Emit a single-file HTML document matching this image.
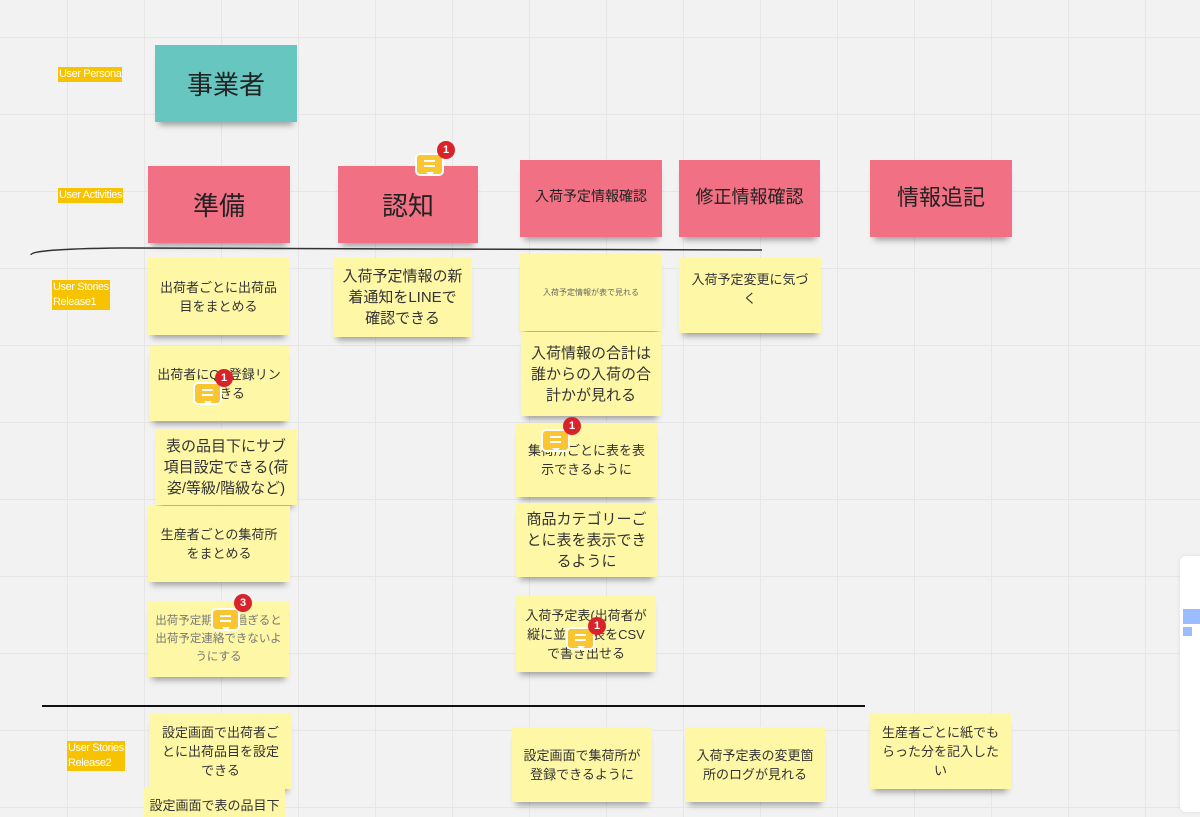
<!DOCTYPE html>
<html style="overflow:hidden;width:1200px;height:817px"><head><meta charset="utf-8"><style>
html,body{margin:0;width:1200px;height:817px;overflow:hidden}
body{background:#f2f2f2;
background-image:linear-gradient(to right,#e6e6e6 1px,transparent 1px),linear-gradient(to bottom,#e6e6e6 1px,transparent 1px);
background-size:77px 77px;background-position:67px 37px;
font-family:"Liberation Sans","Noto Sans CJK JP",sans-serif;position:relative}
.a{position:absolute}
.lbl{position:absolute;background:#f7c200;color:#fff;font-size:11px;line-height:15px;padding:0 1px;letter-spacing:-0.4px}
.s{position:absolute;display:flex;align-items:center;justify-content:center;text-align:center;color:#333;box-shadow:0 7px 6px -4px rgba(0,0,0,.35);box-sizing:border-box;padding:0 8px}
.y{background:#fef7a6;font-size:13px;line-height:19px}
.p{background:#f27083;font-size:26px;color:#222}
.c{position:absolute;width:29px;height:23px;background:#f9c531;border:2px solid #fff;border-radius:5px;box-sizing:border-box}
.c:before{content:"";position:absolute;left:7px;top:5px;width:11px;height:2px;background:#fff;box-shadow:0 5px 0 #fff}
.c:after{content:"";position:absolute;left:9px;bottom:-6px;border:4px solid transparent;border-top:4px solid #fff}
.b{position:absolute;width:18px;height:18px;border-radius:50%;background:#d8232a;color:#fff;font-size:11px;font-weight:bold;line-height:18px;text-align:center}
</style></head><body>
<div class="lbl" style="left:58px;top:67px">User Persona</div>
<div class="lbl" style="left:58px;top:188px">User Activities</div>
<div class="lbl" style="left:52px;top:280px">User Stories<br>Release1</div>
<div class="lbl" style="left:67px;top:741px">User Stories<br>Release2</div>

<div class="s" style="left:155px;top:45px;width:142px;height:77px;background:#67c7c0;font-size:26px;color:#222">事業者</div>

<div class="s p" style="left:148px;top:166px;width:142px;height:77px">準備</div>
<div class="s p" style="left:338px;top:166px;width:140px;height:77px">認知</div>
<div class="s p" style="left:520px;top:160px;width:142px;height:77px;font-size:14px;padding-bottom:6px">入荷予定情報確認</div>
<div class="s p" style="left:679px;top:160px;width:141px;height:77px;font-size:18px;padding-bottom:6px">修正情報確認</div>
<div class="s p" style="left:870px;top:160px;width:142px;height:77px;font-size:22px;padding-bottom:6px">情報追記</div>

<svg class="a" style="left:0;top:0" width="1200" height="817">
<path d="M31 255 Q30 249 120 248 L762 250" stroke="#333" stroke-width="1.5" fill="none"/>
<line x1="42" y1="706" x2="865" y2="706" stroke="#111" stroke-width="2"/>
</svg>

<div class="s y" style="left:148px;top:258px;width:141px;height:77px">出荷者ごとに出荷品目をまとめる</div>
<div class="s y" style="left:149px;top:346px;width:140px;height:75px">出荷者にQR登録リンクできる</div>
<div class="s y" style="left:155px;top:429px;width:142px;height:76px;font-size:15px;line-height:21px">表の品目下にサブ項目設定できる(荷姿/等級/階級など)</div>
<div class="s y" style="left:148px;top:506px;width:142px;height:76px">生産者ごとの集荷所をまとめる</div>
<div class="s y" style="left:148px;top:601px;width:141px;height:76px;font-size:11.5px;line-height:18px;color:#777;padding:0 5px">出荷予定期間を過ぎると出荷予定連絡できないようにする</div>

<div class="s y" style="left:333px;top:258px;width:139px;height:79px;font-size:15px;line-height:21px">入荷予定情報の新着通知をLINEで確認できる</div>

<div class="s y" style="left:520px;top:254px;width:142px;height:77px;font-size:8px;color:#666">入荷予定情報が表で見れる</div>
<div class="s y" style="left:521px;top:332px;width:140px;height:84px;font-size:15px;line-height:21px">入荷情報の合計は誰からの入荷の合計かが見れる</div>
<div class="s y" style="left:516px;top:423px;width:141px;height:74px">集荷所ごとに表を表示できるように</div>
<div class="s y" style="left:516px;top:503px;width:141px;height:74px;font-size:15px;line-height:21px">商品カテゴリーごとに表を表示できるように</div>
<div class="s y" style="left:516px;top:596px;width:140px;height:76px;padding:0 6px">入荷予定表(出荷者が縦に並んだ表をCSVで書き出せる</div>

<div class="s y" style="left:679px;top:258px;width:142px;height:75px;align-items:flex-start;padding-top:12px">入荷予定変更に気づく</div>

<div class="s y" style="left:149px;top:713px;width:143px;height:76px">設定画面で出荷者ごとに出荷品目を設定できる</div>
<div class="s y" style="left:144px;top:788px;width:141px;height:29px;align-items:flex-start;padding:8px 2px 0;white-space:nowrap;box-shadow:none">設定画面で表の品目下</div>
<div class="s y" style="left:512px;top:727px;width:140px;height:75px">設定画面で集荷所が登録できるように</div>
<div class="s y" style="left:685px;top:727px;width:140px;height:75px">入荷予定表の変更箇所のログが見れる</div>
<div class="s y" style="left:870px;top:713px;width:141px;height:76px">生産者ごとに紙でもらった分を記入したい</div>

<div class="c" style="left:415px;top:153px"></div><div class="b" style="left:437px;top:141px">1</div>
<div class="c" style="left:193px;top:382px"></div><div class="b" style="left:215px;top:369px">1</div>
<div class="c" style="left:541px;top:429px"></div><div class="b" style="left:563px;top:417px">1</div>
<div class="c" style="left:211px;top:608px"></div><div class="b" style="left:234px;top:594px">3</div>
<div class="c" style="left:566px;top:627px"></div><div class="b" style="left:588px;top:617px">1</div>

<div class="a" style="left:1180px;top:556px;width:30px;height:256px;background:#fff;border-radius:6px;box-shadow:0 0 4px rgba(0,0,0,.1)"></div>
<div class="a" style="left:1183px;top:609px;width:17px;height:15px;background:#9bbcff"></div>
<div class="a" style="left:1183px;top:627px;width:9px;height:9px;background:#9bbcff"></div>
</body></html>
